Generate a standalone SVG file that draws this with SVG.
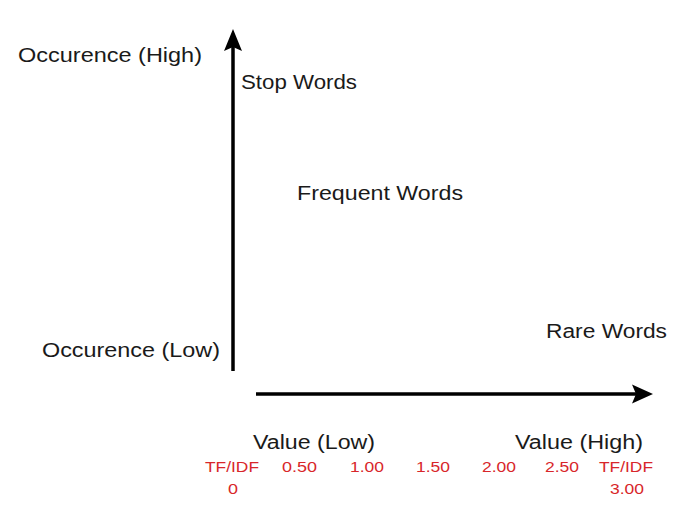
<svg xmlns="http://www.w3.org/2000/svg" width="700" height="529" viewBox="0 0 700 529">
<style>
.lbl{font-family:"Liberation Sans",Arial,sans-serif;font-size:20px;fill:#1a1a1a}
.tick{font-family:"Liberation Sans",Arial,sans-serif;font-size:15px;fill:#d8262a}
.axis{stroke:#000;stroke-width:3.5;fill:none}
.head{fill:#000}
</style>
<rect width="700" height="529" fill="#fff"/>
<g id="connectors">
<g id="y-axis">
<line class="axis" x1="233" y1="371" x2="233" y2="46"/>
<polygon class="head" points="233,29 242,51 233,47 224,51"/>
</g>
<g id="x-axis">
<line class="axis" x1="256" y1="394" x2="637" y2="394"/>
<polygon class="head" points="653,394 632,384.5 636,394 632,403.5"/>
</g>
</g>
<g id="occ-high"><text class="lbl" x="18" y="62" textLength="184" lengthAdjust="spacingAndGlyphs">Occurence (High)</text></g>
<g id="stop-words"><text class="lbl" x="241" y="89" textLength="116" lengthAdjust="spacingAndGlyphs">Stop Words</text></g>
<g id="frequent-words"><text class="lbl" x="297" y="200" textLength="166" lengthAdjust="spacingAndGlyphs">Frequent Words</text></g>
<g id="rare-words"><text class="lbl" x="546" y="338" textLength="121" lengthAdjust="spacingAndGlyphs">Rare Words</text></g>
<g id="occ-low"><text class="lbl" x="42" y="357" textLength="178" lengthAdjust="spacingAndGlyphs">Occurence (Low)</text></g>
<g id="value-low"><text class="lbl" x="253" y="449" textLength="122" lengthAdjust="spacingAndGlyphs">Value (Low)</text></g>
<g id="value-high"><text class="lbl" x="515" y="449" textLength="128" lengthAdjust="spacingAndGlyphs">Value (High)</text></g>
<g id="ticks">
<text class="tick" x="205" y="472" textLength="54" lengthAdjust="spacingAndGlyphs">TF/IDF</text>
<text class="tick" x="228" y="494" textLength="10" lengthAdjust="spacingAndGlyphs">0</text>
<text class="tick" x="282" y="472" textLength="35" lengthAdjust="spacingAndGlyphs">0.50</text>
<text class="tick" x="350" y="472" textLength="34" lengthAdjust="spacingAndGlyphs">1.00</text>
<text class="tick" x="416" y="472" textLength="34" lengthAdjust="spacingAndGlyphs">1.50</text>
<text class="tick" x="482" y="472" textLength="34" lengthAdjust="spacingAndGlyphs">2.00</text>
<text class="tick" x="545" y="472" textLength="34" lengthAdjust="spacingAndGlyphs">2.50</text>
<text class="tick" x="599" y="472" textLength="54" lengthAdjust="spacingAndGlyphs">TF/IDF</text>
<text class="tick" x="610" y="494" textLength="34" lengthAdjust="spacingAndGlyphs">3.00</text>
</g>
</svg>
